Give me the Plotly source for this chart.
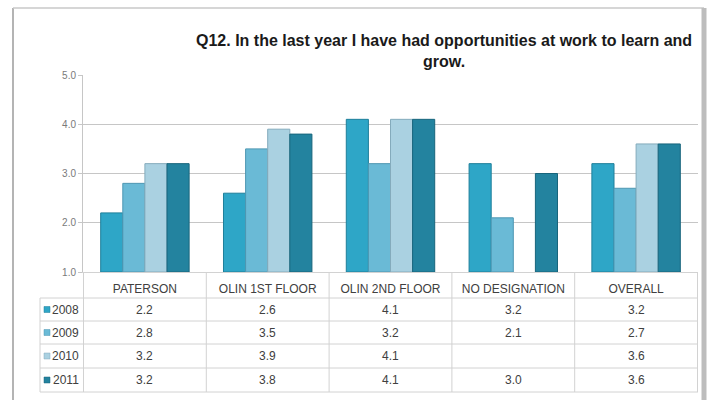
import plotly.graph_objects as go

# Survey results: mean score per location and year
categories = ["PATERSON", "OLIN 1ST FLOOR", "OLIN 2ND FLOOR", "NO DESIGNATION", "OVERALL"]
years = ["2008", "2009", "2010", "2011"]
scores_2008 = [2.2, 2.6, 4.1, 3.2, 3.2]
scores_2009 = [2.8, 3.5, 3.2, 2.1, 2.7]
scores_2010 = [3.2, 3.9, 4.1, None, 3.6]
scores_2011 = [3.2, 3.8, 4.1, 3.0, 3.6]
y_ticks = [1.0, 2.0, 3.0, 4.0, 5.0]
title_text = "Q12. In the last year I have had opportunities at work to learn and<br>grow."

series = [scores_2008, scores_2009, scores_2010, scores_2011]
colors = ["#2EA6C7", "#6ABAD6", "#AAD1E1", "#23839F"]
edge_colors = ["#1E7F9A", "#4E97B2", "#84ABBC", "#18657C"]

W, H = 711, 400
L, R, T, B = 83, 698, 75, 272          # plot area in pixels
FONT = "Liberation Sans"
TEXT = "#404040"
GRID = "#c6c6c6"
TABLE = "#d2d2d2"


def px(x):
    return (x - L) / (R - L)


def py(y):
    return (B - y) / (B - T)


fig = go.Figure()
for name, vals, c, ec in zip(years, series, colors, edge_colors):
    fig.add_trace(go.Bar(
        x=categories, y=[v - 1.0 if v is not None else None for v in vals],
        base=1.0, name=name,
        marker=dict(color=c, line=dict(color=ec, width=1)),
        showlegend=False,
    ))

shapes = []
annotations = []

# Data table under the plot
row_edges = [272, 298, 321, 344, 368, 392]
for y in row_edges[1:]:
    shapes.append(dict(type="line", xref="paper", yref="paper",
                       x0=px(40), x1=1, y0=py(y), y1=py(y),
                       line=dict(color=TABLE, width=1)))
for i in range(len(categories) + 1):
    shapes.append(dict(type="line", xref="x", yref="paper",
                       x0=i - 0.5, x1=i - 0.5, y0=py(272), y1=py(392),
                       line=dict(color=TABLE, width=1)))
shapes.append(dict(type="line", xref="paper", yref="paper",
                   x0=px(40), x1=px(40), y0=py(298), y1=py(392),
                   line=dict(color=TABLE, width=1)))

for r, (name, vals, c) in enumerate(zip(years, series, colors)):
    yc = (row_edges[r + 1] + row_edges[r + 2]) / 2
    # legend key
    shapes.append(dict(type="rect", xref="paper", yref="paper",
                       x0=px(44), x1=px(50), y0=py(yc + 3), y1=py(yc - 3),
                       fillcolor=c, line=dict(color=edge_colors[r], width=0.5)))
    annotations.append(dict(xref="paper", yref="paper", x=px(81), y=py(yc),
                            xanchor="right", yanchor="middle", showarrow=False,
                            text=name, font=dict(family=FONT, size=12, color=TEXT)))
    for i, v in enumerate(vals):
        if v is None:
            continue
        annotations.append(dict(xref="x", yref="paper", x=i, y=py(yc),
                                xanchor="center", yanchor="middle", showarrow=False,
                                text=f"{v:.1f}",
                                font=dict(family=FONT, size=12, color=TEXT)))

# Outer frame
shapes.append(dict(type="line", xref="paper", yref="paper",
                   x0=px(13), x1=px(13), y0=py(8), y1=py(410),
                   line=dict(color="#b4b4b4", width=2)))
shapes.append(dict(type="line", xref="paper", yref="paper",
                   x0=px(13), x1=px(704), y0=py(8), y1=py(8),
                   line=dict(color="#c8c8c8", width=1.5)))
shapes.append(dict(type="line", xref="paper", yref="paper",
                   x0=px(704), x1=px(704), y0=py(8), y1=py(410),
                   line=dict(color="#bdbdbd", width=5)))

annotations.append(dict(xref="paper", yref="paper", x=px(444), y=py(30),
                        xanchor="center", yanchor="top", showarrow=False,
                        text=title_text, align="center",
                        font=dict(family=FONT, size=16, color="#1a1a1a", weight="bold")))

fig.update_layout(
    width=W, height=H,
    margin=dict(l=L, r=W - R, t=T, b=H - B, pad=0),
    paper_bgcolor="white", plot_bgcolor="white",
    barmode="group", bargap=0.28, bargroupgap=0.0,
    shapes=shapes, annotations=annotations,
    xaxis=dict(showgrid=False, showline=True, linecolor=TABLE, linewidth=1,
               ticks="", tickfont=dict(family=FONT, size=12, color=TEXT),
               ticklabelstandoff=6, fixedrange=True),
    yaxis=dict(range=[1, 5], tickvals=y_ticks, tickformat=".1f",
               showgrid=True, gridcolor=GRID, gridwidth=1,
               showline=True, linecolor=GRID, linewidth=1,
               ticks="outside", ticklen=4, tickcolor=GRID,
               tickfont=dict(family=FONT, size=10, color="#7a7a7a"),
               zeroline=False, fixedrange=True),
)

fig.write_html("out.html")
